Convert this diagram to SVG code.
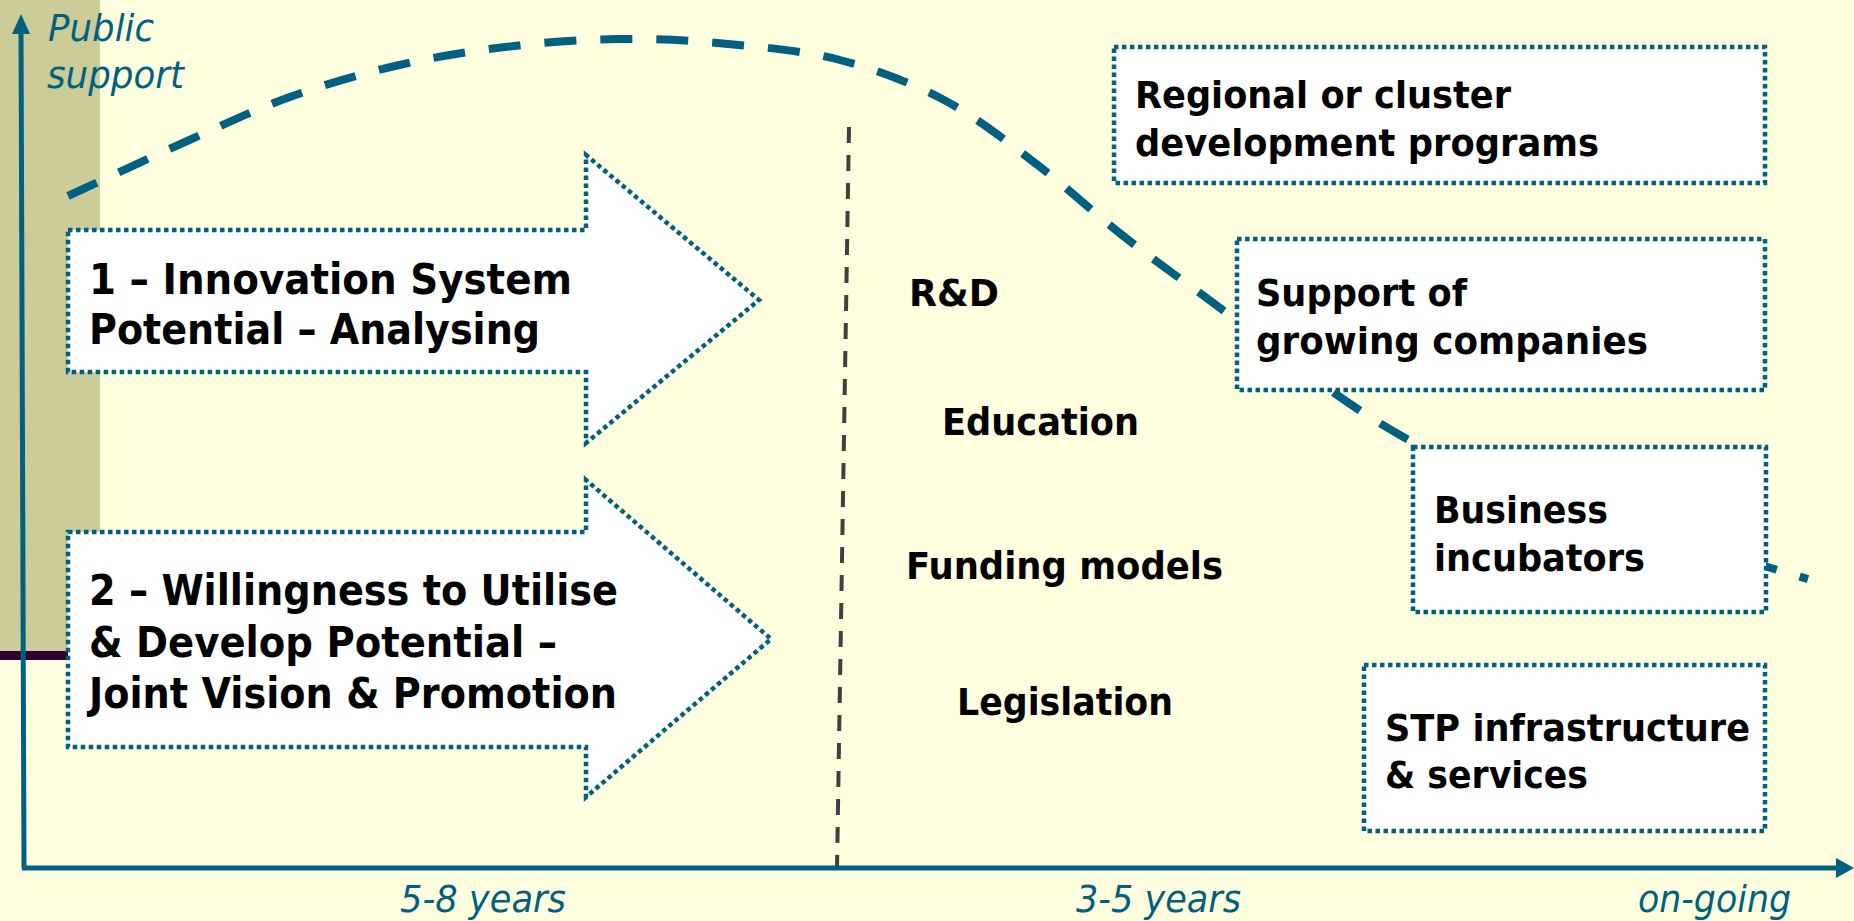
<svg xmlns="http://www.w3.org/2000/svg" width="1854" height="921" viewBox="0 0 1854 921">
  <defs>
    <style>
      .dot { fill: #FFFFFF; stroke: #00607F; stroke-width: 4.5; stroke-dasharray: 4.5 3.5; }
      .bt { font-family: "DejaVu Sans", Verdana, sans-serif; font-weight: bold; fill: #000000; }
      .bx { font-size: 42px; }
      .rb { font-size: 38px; }
      .mid { font-size: 37px; }
      .it { font-family: "DejaVu Sans", Verdana, sans-serif; font-style: italic; font-size: 38px; fill: #00607F; }
      .axis { stroke: #00607F; stroke-width: 5; fill: none; }
    </style>
  </defs>

  <rect x="0" y="0" width="1854" height="921" fill="#FFFFE0"/>
  <rect x="0" y="0" width="100" height="651" fill="#CCCC99"/>
  <rect x="0" y="651" width="100" height="9" fill="#330033"/>

  <g id="connectors">
    <path id="support-curve" fill="none" stroke="#00607F" stroke-width="8" stroke-dasharray="32 24"
      d="M68,196 C87.5,187 148.5,158.3 185,142 C221.5,125.7 252,110.7 287,98 C322,85.3 358.7,74.5 395,66 C431.3,57.5 468,51.5 505,47 C542,42.5 579.8,39.5 617,39 C654.2,38.5 690.8,40.5 728,44 C765.2,47.5 804,50.7 840,60 C876,69.3 911.5,82.8 944,100 C976.5,117.2 1005.3,140.5 1035,163 C1064.7,185.5 1092.5,211.8 1122,235 C1151.5,258.2 1170.7,271.7 1212,302 C1253.3,332.3 1322,386.8 1370,417 C1418,447.2 1455,464.7 1500,483 C1545,501.3 1594.8,512.8 1640,527 C1685.2,541.2 1743,559.3 1771,568 C1799,576.7 1801.8,577.2 1808,579"/>
    <line id="divider" x1="849" y1="127" x2="837" y2="868" stroke="#404040" stroke-width="4" stroke-dasharray="16 12"/>
  </g>

  <g id="arrow1">
    <polygon class="dot" points="68,230 586,230 586,155 759,300 586,443 586,372 68,372"/>
    <text class="bt bx" x="89" y="294" textLength="483" lengthAdjust="spacingAndGlyphs">1 – Innovation System</text>
    <text class="bt bx" x="89" y="344" textLength="451" lengthAdjust="spacingAndGlyphs">Potential – Analysing</text>
  </g>

  <g id="arrow2">
    <polygon class="dot" points="68,532 586,532 586,480 771,639 586,797 586,747 68,747"/>
    <text class="bt bx" x="89" y="605" textLength="529" lengthAdjust="spacingAndGlyphs">2 – Willingness to Utilise</text>
    <text class="bt bx" x="89" y="657" textLength="468" lengthAdjust="spacingAndGlyphs">&amp; Develop Potential –</text>
    <text class="bt bx" x="89" y="708" textLength="528" lengthAdjust="spacingAndGlyphs">Joint Vision &amp; Promotion</text>
  </g>

  <g id="box-regional">
    <rect class="dot" x="1114" y="47" width="651" height="136"/>
    <text class="bt rb" x="1135" y="108" textLength="376" lengthAdjust="spacingAndGlyphs">Regional or cluster</text>
    <text class="bt rb" x="1135" y="156" textLength="464" lengthAdjust="spacingAndGlyphs">development programs</text>
  </g>

  <g id="box-support">
    <rect class="dot" x="1237" y="239" width="528" height="151"/>
    <text class="bt rb" x="1256" y="306" textLength="211" lengthAdjust="spacingAndGlyphs">Support of</text>
    <text class="bt rb" x="1256" y="354" textLength="392" lengthAdjust="spacingAndGlyphs">growing companies</text>
  </g>

  <g id="box-business">
    <rect class="dot" x="1413" y="447" width="353" height="165"/>
    <text class="bt rb" x="1434" y="523" textLength="174" lengthAdjust="spacingAndGlyphs">Business</text>
    <text class="bt rb" x="1434" y="571" textLength="211" lengthAdjust="spacingAndGlyphs">incubators</text>
  </g>

  <g id="box-stp">
    <rect class="dot" x="1364" y="665" width="401" height="166"/>
    <text class="bt rb" x="1385" y="741" textLength="365" lengthAdjust="spacingAndGlyphs">STP infrastructure</text>
    <text class="bt rb" x="1385" y="788" textLength="203" lengthAdjust="spacingAndGlyphs">&amp; services</text>
  </g>

  <g id="label-rd"><text class="bt mid" x="909" y="306" textLength="90" lengthAdjust="spacingAndGlyphs">R&amp;D</text></g>
  <g id="label-education"><text class="bt mid" x="942" y="435" textLength="197" lengthAdjust="spacingAndGlyphs">Education</text></g>
  <g id="label-funding"><text class="bt mid" x="906" y="579" textLength="317" lengthAdjust="spacingAndGlyphs">Funding models</text></g>
  <g id="label-legislation"><text class="bt mid" x="957" y="715" textLength="216" lengthAdjust="spacingAndGlyphs">Legislation</text></g>

  <g id="axes">
    <line class="axis" x1="21" y1="30" x2="24" y2="868"/>
    <polygon points="21,14 12,34 30,34" fill="#00607F"/>
    <line class="axis" x1="22" y1="868" x2="1840" y2="868"/>
    <polygon points="1854,868 1836,858 1836,878" fill="#00607F"/>
    <text class="it" x="48" y="41" textLength="106" lengthAdjust="spacingAndGlyphs">Public</text>
    <text class="it" x="47" y="88" textLength="137" lengthAdjust="spacingAndGlyphs">support</text>
    <text class="it" x="400" y="912" textLength="166" lengthAdjust="spacingAndGlyphs">5-8 years</text>
    <text class="it" x="1076" y="912" textLength="165" lengthAdjust="spacingAndGlyphs">3-5 years</text>
    <text class="it" x="1638" y="912" textLength="153" lengthAdjust="spacingAndGlyphs">on-going</text>
  </g>
</svg>
